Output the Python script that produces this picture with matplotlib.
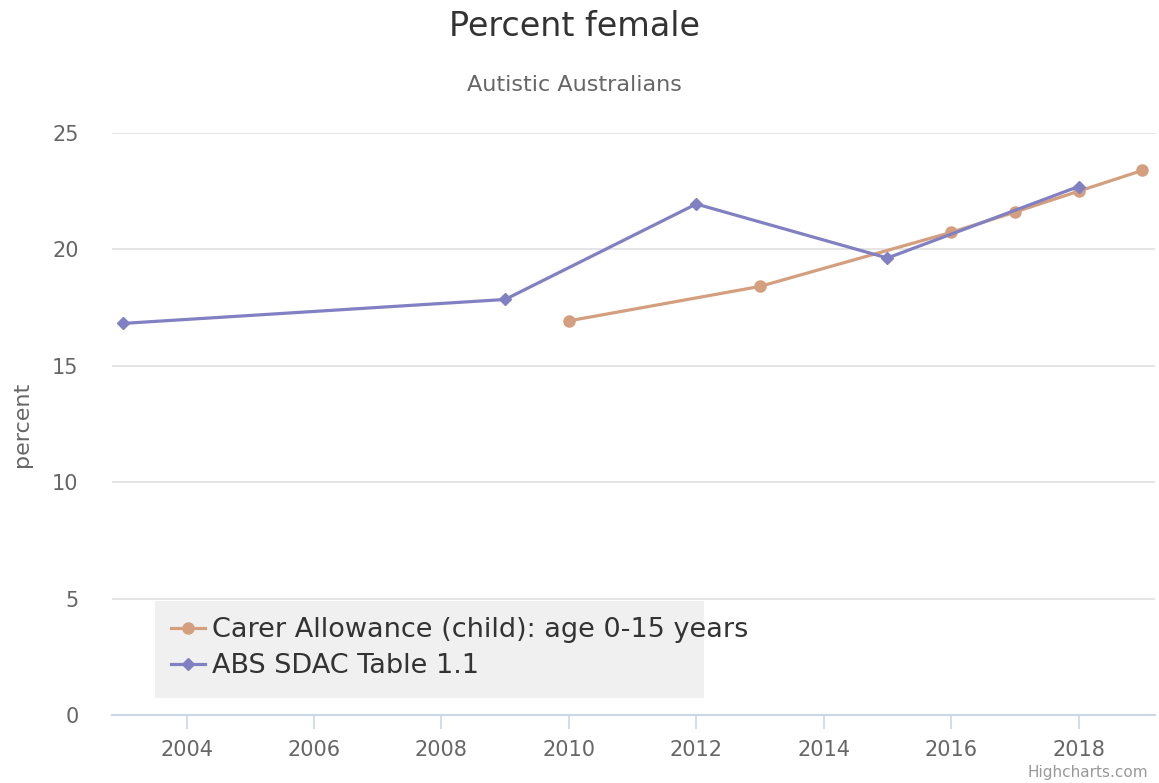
import matplotlib
matplotlib.use("Agg")
import matplotlib.pyplot as plt
from matplotlib.patches import Rectangle

# data
carer_years = [2010, 2013, 2016, 2017, 2018, 2019]
carer_pct = [16.93, 18.41, 20.73, 21.60, 22.50, 23.39]
abs_years = [2003, 2009, 2012, 2015, 2018]
abs_pct = [16.82, 17.85, 21.95, 19.63, 22.70]
x_ticks = [2004, 2006, 2008, 2010, 2012, 2014, 2016, 2018]
y_ticks = [0, 5, 10, 15, 20, 25]

carer_col = "#d49f7e"
abs_col = "#8080c2"

plt.rcParams['font.family'] = ['DejaVu Sans']

fig = plt.figure(figsize=(11.59, 7.83), dpi=100)
ax = fig.add_axes([112 / 1159, 1 - 715 / 783, 1043 / 1159, 582 / 783])

ax.plot(carer_years, carer_pct, color=carer_col, lw=2.3, marker='o', ms=8,
        label="Carer Allowance (child): age 0-15 years", zorder=3)
ax.plot(abs_years, abs_pct, color=abs_col, lw=2.3, marker='D', ms=6,
        label="ABS SDAC Table 1.1", zorder=4)

ax.set_xlim(2002.83, 2019.2)
ax.set_ylim(0, 25)
ax.set_xticks(x_ticks)
ax.set_yticks(y_ticks)
ax.grid(axis='y', color='#e3e3e3', lw=1.3)
ax.set_axisbelow(True)
for s in ['top', 'right', 'left']:
    ax.spines[s].set_visible(False)
ax.spines['bottom'].set_color('#ccd6eb')
ax.spines['bottom'].set_linewidth(1.5)
ax.tick_params(axis='x', colors='#ccd6eb', length=10, width=1.2, pad=8,
               labelcolor='#666666', labelsize=15)
ax.tick_params(axis='y', length=0, pad=24, labelcolor='#666666', labelsize=15)
ax.set_ylabel("percent", color='#666666', fontsize=16)
ax.yaxis.set_label_coords((32 - 112) / 1043, 0.5)

fig.text(0.496, 1 - 26 / 783, "Percent female", ha='center', va='center',
         fontsize=24, color='#333333')
fig.text(0.496, 1 - 85 / 783, "Autistic Australians", ha='center', va='center',
         fontsize=16, color='#666666')
fig.text(1148 / 1159, 1 - 773 / 783, "Highcharts.com", ha='right', va='center',
         fontsize=11, color='#999999')

# legend background box (text overflows it in the reference)
ax.add_patch(Rectangle(((155 - 112) / 1043, (715 - 698) / 582),
                       (704 - 155) / 1043, (698 - 601) / 582,
                       transform=ax.transAxes, facecolor='#f0f0f0',
                       edgecolor='none', zorder=1))
leg = ax.legend(loc='upper left', bbox_to_anchor=((171 - 112) / 1043, (715 - 617) / 582),
                frameon=False, prop={'size': 19.5},
                handlelength=1.25, handletextpad=0.26,
                labelspacing=0.38, borderpad=0, borderaxespad=0, labelcolor='#333333')
leg.set_zorder(5)

fig.savefig("out.png", dpi=100)
